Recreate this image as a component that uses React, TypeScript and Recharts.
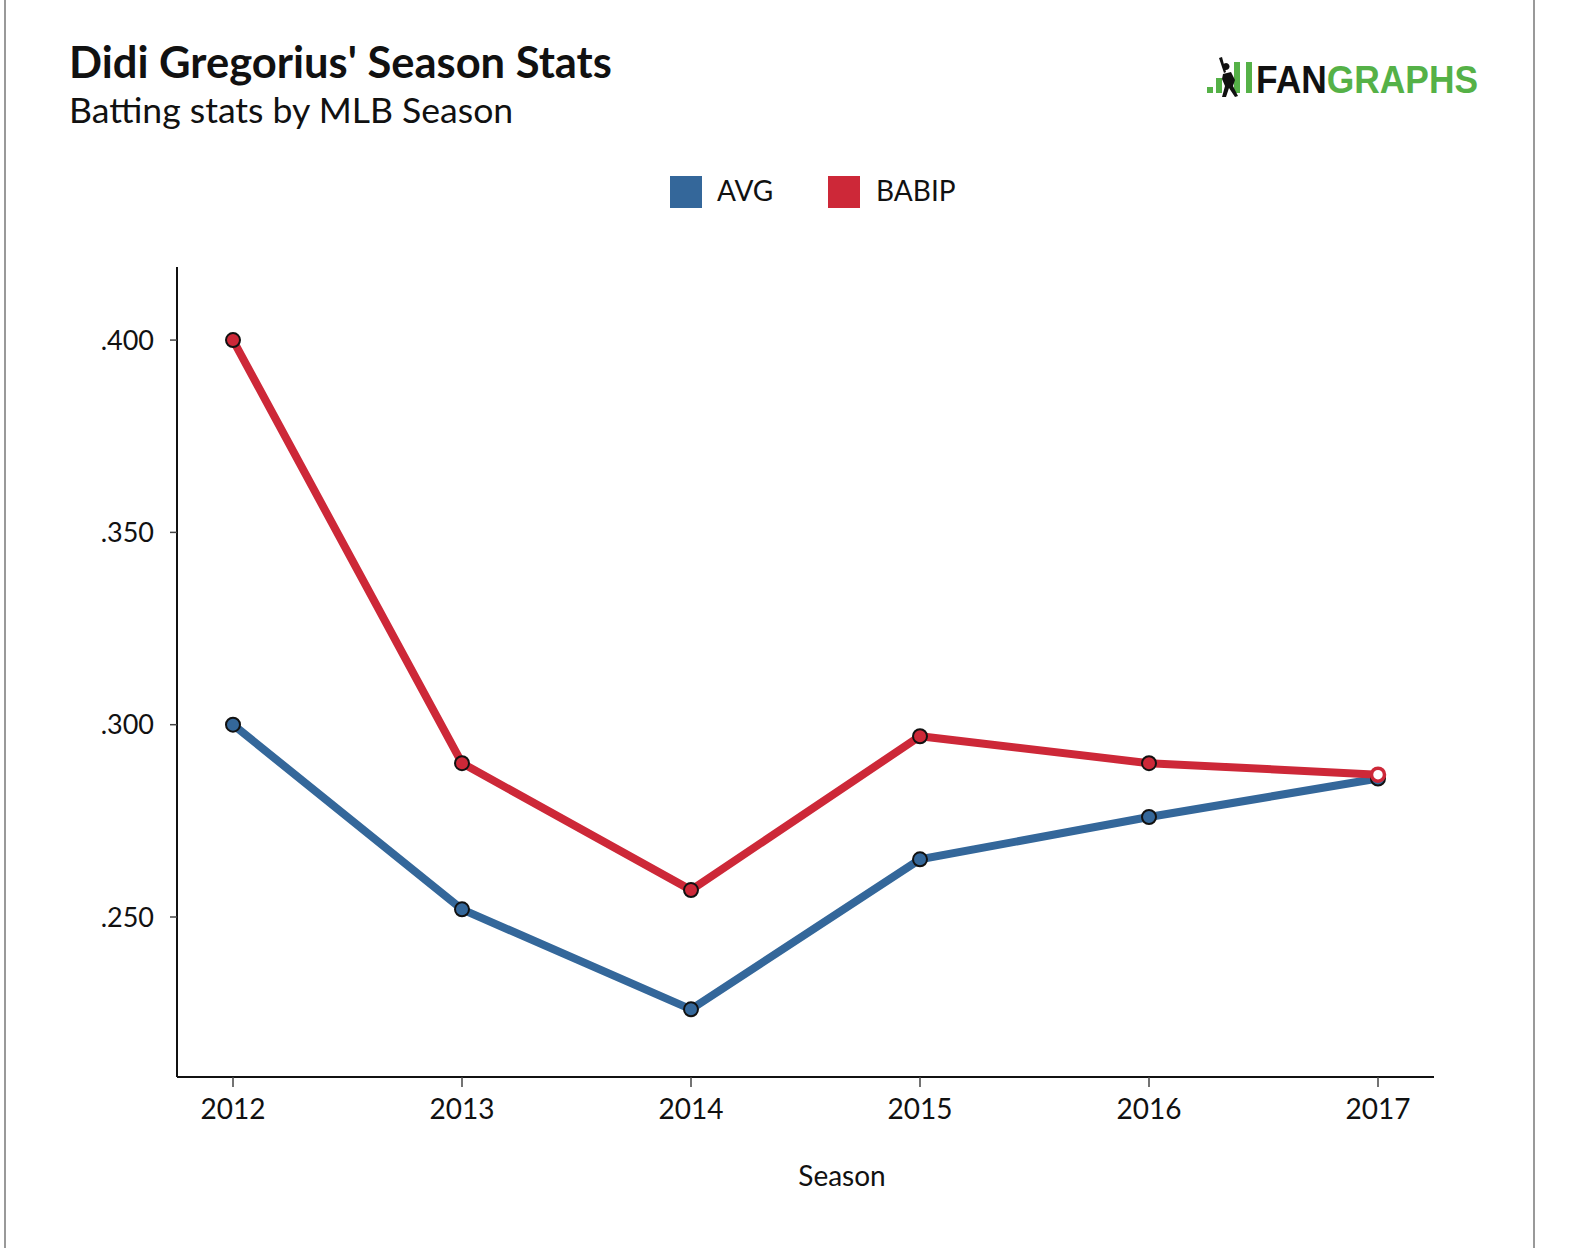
import { Line, LineChart, XAxis, YAxis } from "recharts";

// Didi Gregorius season stats
const seasons = ["2012", "2013", "2014", "2015", "2016", "2017"];
const avgValues = [0.3, 0.252, 0.226, 0.265, 0.276, 0.286];
const babipValues = [0.4, 0.29, 0.257, 0.297, 0.29, 0.287];
const yTicks = [0.25, 0.3, 0.35, 0.4];

const BLUE = "#34679a";
const RED = "#cd2838";
const GREEN = "#55b147";
const FONT = "Lato, 'Open Sans', sans-serif";

const data = seasons.map((season, i) => ({
  season,
  avg: avgValues[i],
  babip: babipValues[i],
}));

const fmtRate = (v: number) => v.toFixed(3).replace(/^0/, "");

const makeDot = (color: string, lastHollow: boolean) => (props: any) => {
  const { cx, cy, index } = props;
  if (lastHollow && index === data.length - 1) {
    return (
      <circle key={index} cx={cx} cy={cy} r={6.5} fill="#fff" stroke={color} strokeWidth={3.5} />
    );
  }
  return <circle key={index} cx={cx} cy={cy} r={7} fill={color} stroke="#111" strokeWidth={2} />;
};

const ChartLegend = () => (
  <div style={{ position: "absolute", left: 0, top: 176, height: 40, fontFamily: FONT, fontSize: 28, color: "#111" }}>
    <div style={{ position: "absolute", left: 670, top: 0, width: 32, height: 32, background: BLUE }} />
    <div style={{ position: "absolute", left: 717, top: -4, lineHeight: "36px" }}>AVG</div>
    <div style={{ position: "absolute", left: 828, top: 0, width: 32, height: 32, background: RED }} />
    <div style={{ position: "absolute", left: 876, top: -4, lineHeight: "36px" }}>BABIP</div>
  </div>
);

const Logo = () => (
  <g>
    {/* little green bars */}
    <rect x={1207} y={87} width={6} height={6} fill={GREEN} />
    <rect x={1216} y={78} width={6} height={15} fill={GREEN} />
    <rect x={1234} y={62} width={6} height={31} fill={GREEN} />
    <rect x={1246} y={62} width={6} height={31} fill={GREEN} />
    {/* batter silhouette */}
    <path
      d="M1219 58 L1222 57 L1226 72 L1224 73 Z M1226 70 a3.5 3.5 0 1 1 0.1 0 Z M1223 74 L1231 72 L1235 80 L1233 86 L1238 96 L1235 97 L1229 88 L1226 97 L1222 97 L1225 86 L1222 79 Z"
      fill="#111"
    />
    <text x={1256} y={93} fontFamily="'Liberation Sans', Arial, sans-serif" fontWeight={700} fontSize={38} textLength={222} lengthAdjust="spacingAndGlyphs">
      <tspan fill="#111">FAN</tspan>
      <tspan fill={GREEN}>GRAPHS</tspan>
    </text>
  </g>
);

export default function App() {
  return (
    <div style={{ position: "absolute", left: 0, top: 0, width: 1580, height: 1248, background: "#fff" }}>
      <svg width={1580} height={1248} style={{ position: "absolute", left: 0, top: 0 }}>
        <line x1={5} y1={0} x2={5} y2={1248} stroke="#999" strokeWidth={2} />
        <line x1={1534} y1={0} x2={1534} y2={1248} stroke="#999" strokeWidth={2} />
        <text x={69} y={78} fontFamily={FONT} fontWeight={700} fontSize={43.5} fill="#111">
          Didi Gregorius' Season Stats
        </text>
        <text x={69} y={123} fontFamily={FONT} fontSize={35.6} fill="#111">
          Batting stats by MLB Season
        </text>
        <text x={842} y={1186} textAnchor="middle" fontFamily={FONT} fontSize={28} fill="#111">
          Season
        </text>
        <Logo />
      </svg>
      <ChartLegend />
      <div style={{ position: "absolute", left: 0, top: 0 }}>
        <LineChart
          width={1580}
          height={1248}
          data={data}
          margin={{ top: 267, right: 146, left: 100, bottom: 111 }}
        >
          <XAxis
            dataKey="season"
            padding={{ left: 56, right: 56 }}
            height={60}
            axisLine={{ stroke: "#111", strokeWidth: 2 }}
            tickLine={{ stroke: "#444", strokeWidth: 1.5 }}
            tickSize={10}
            tickMargin={12}
            tick={{ fill: "#111", fontSize: 28, fontFamily: FONT }}
          />
          <YAxis
            domain={[0.2084, 0.419]}
            ticks={yTicks}
            tickFormatter={fmtRate}
            width={77}
            axisLine={{ stroke: "#111", strokeWidth: 2 }}
            tickLine={{ stroke: "#444", strokeWidth: 1.5 }}
            tickSize={7}
            tickMargin={16}
            tick={{ fill: "#111", fontSize: 27, fontFamily: FONT }}
          />
          <Line
            dataKey="avg"
            name="AVG"
            stroke={BLUE}
            strokeWidth={8}
            dot={makeDot(BLUE, false)}
            activeDot={false}
            isAnimationActive={false}
          />
          <Line
            dataKey="babip"
            name="BABIP"
            stroke={RED}
            strokeWidth={8}
            dot={makeDot(RED, true)}
            activeDot={false}
            isAnimationActive={false}
          />
        </LineChart>
      </div>
    </div>
  );
}
